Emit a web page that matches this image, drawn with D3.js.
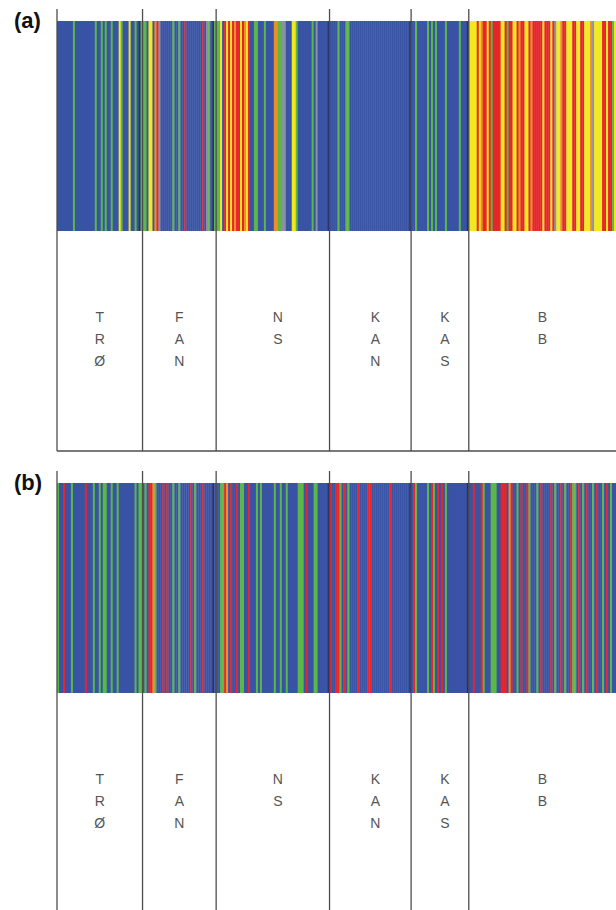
<!DOCTYPE html>
<html>
<head>
<meta charset="utf-8">
<script src="https://cdn.jsdelivr.net/npm/d3@7"></script>
<style>
  body { margin: 0; background: #fff; }
  svg { display: block; }
</style>
</head>
<body>
<svg id="chart"></svg>
<script>
// populations, left to right
const populations = ["TRØ", "FAN", "NS", "KAN", "KAS", "BB"];

// cluster assignment of each individual, one letter per individual
// B blue, G green, Y yellow, R red, O orange, N navy, A grey
const assignA = [
  "BBBBBBBBGBBBBBBBBBBGBBGBGBBGBBBYGBBBYBBGBNG",
  "GGBYYBORABBBBBBGBBGBBRBBBBBBBBRBAGBNG",
  "GGYBRYRYRORRYROYRBBGGBBBGBBBBOOGGAABBBYYGBBBBBBBGBABBBBBN",
  "BBBBGBBBGG" + "BBBBBBBBBBBBBBBBBBBBBBBBBBBBBB" + "N",
  "BBGBBBBBGBGBGBBBBGBBBBBBGBBBN",
  "YYYYRYORRYRGRRRRYYRGRRYYRORRYYRORRRRRYRRRYRAYYORRYYYRRYYRRYYYOAYYYYRRYRRGY"
];
const assignB = [
  "GBBRBBBGBBBBBBRBBBGBBGBGGBBGBBGBBBBBBBBGBGG",
  "BGBRROGBBBRBRBBGBBGBBBBBRBGBBBRBBBBNB",
  "BBGGROBRBBRBGGBBRBBBGBGBBBBBBGBBGBBGBBBBBGGGBRBBBGGBBBBBN",
  "RBBRRGBRBGBBBBRBBBBRRBBBBBBBBBRBBBBBBBBBN",
  "BRGBBBBBGBRGBRBRBGBBBBBBBBBBN",
  "BBRBBBRGBBBGGGBBRRRBORBBGBRBBRGBBBGBRBBBBRBGBBRBGBBRGGBRBGBRBBGBRBBGBRBGBB"
];
const panels = [
  { tag: "(a)", data: assignA },
  { tag: "(b)", data: assignB }
];

const clusterColor = {
  B: "#3953a5", G: "#5bb848", Y: "#f3e81d", R: "#e6262c",
  O: "#ee8f24", N: "#283170", A: "#8c90a3"
};

const W = 616, H = 910;
const left = 57, right = 616;
const barH = 210, labelH = 220, tickUp = 12;
const panelTop = [21, 483];

const svg = d3.select("#chart").attr("width", W).attr("height", H);

panels.forEach((p, pi) => {
  const top = panelTop[pi];
  const inds = [];
  const starts = [];
  p.data.forEach((s, gi) => {
    starts.push(inds.length);
    s.split("").forEach(c => inds.push({ pop: gi, k: c }));
  });
  const x = d3.scaleBand().domain(d3.range(inds.length)).range([left, right]).padding(0);
  const bounds = starts.map(i => x(i)).concat([right]);

  const g = svg.append("g");

  g.selectAll("rect.ind")
    .data(inds)
    .enter()
    .append("rect")
    .attr("class", "ind")
    .attr("x", (d, i) => x(i))
    .attr("y", top)
    .attr("width", x.bandwidth() + 0.4)
    .attr("height", barH)
    .attr("fill", d => clusterColor[d.k]);

  // population separators
  g.selectAll("line.sep")
    .data(bounds.slice(0, -1))
    .enter()
    .append("line")
    .attr("x1", d => d).attr("x2", d => d)
    .attr("y1", top - tickUp)
    .attr("y2", top + barH + labelH)
    .attr("stroke", "#4d4d4d")
    .attr("stroke-width", 1.3);

  if (pi === 0) {
    g.append("line")
      .attr("x1", left).attr("x2", right)
      .attr("y1", top + barH + labelH).attr("y2", top + barH + labelH)
      .attr("stroke", "#4d4d4d").attr("stroke-width", 1.3);
  }

  // stacked population labels
  populations.forEach((name, gi) => {
    const cx = (bounds[gi] + bounds[gi + 1]) / 2 + (gi >= 2 && gi <= 4 ? 5 : 0);
    name.split("").forEach((ch, li) => {
      g.append("text")
        .attr("x", cx)
        .attr("y", top + 297 + li * 22)
        .attr("text-anchor", "middle")
        .attr("dominant-baseline", "middle")
        .attr("font-family", "Liberation Sans, Arial, sans-serif")
        .attr("font-size", 14)
        .attr("fill", "#555")
        .text(ch);
    });
  });

  g.append("text")
    .attr("x", 14)
    .attr("y", top + 7)
    .attr("font-family", "Liberation Sans, Arial, sans-serif")
    .attr("font-weight", "bold")
    .attr("font-size", 22)
    .attr("fill", "#111")
    .text(p.tag);
});
</script>
</body>
</html>
